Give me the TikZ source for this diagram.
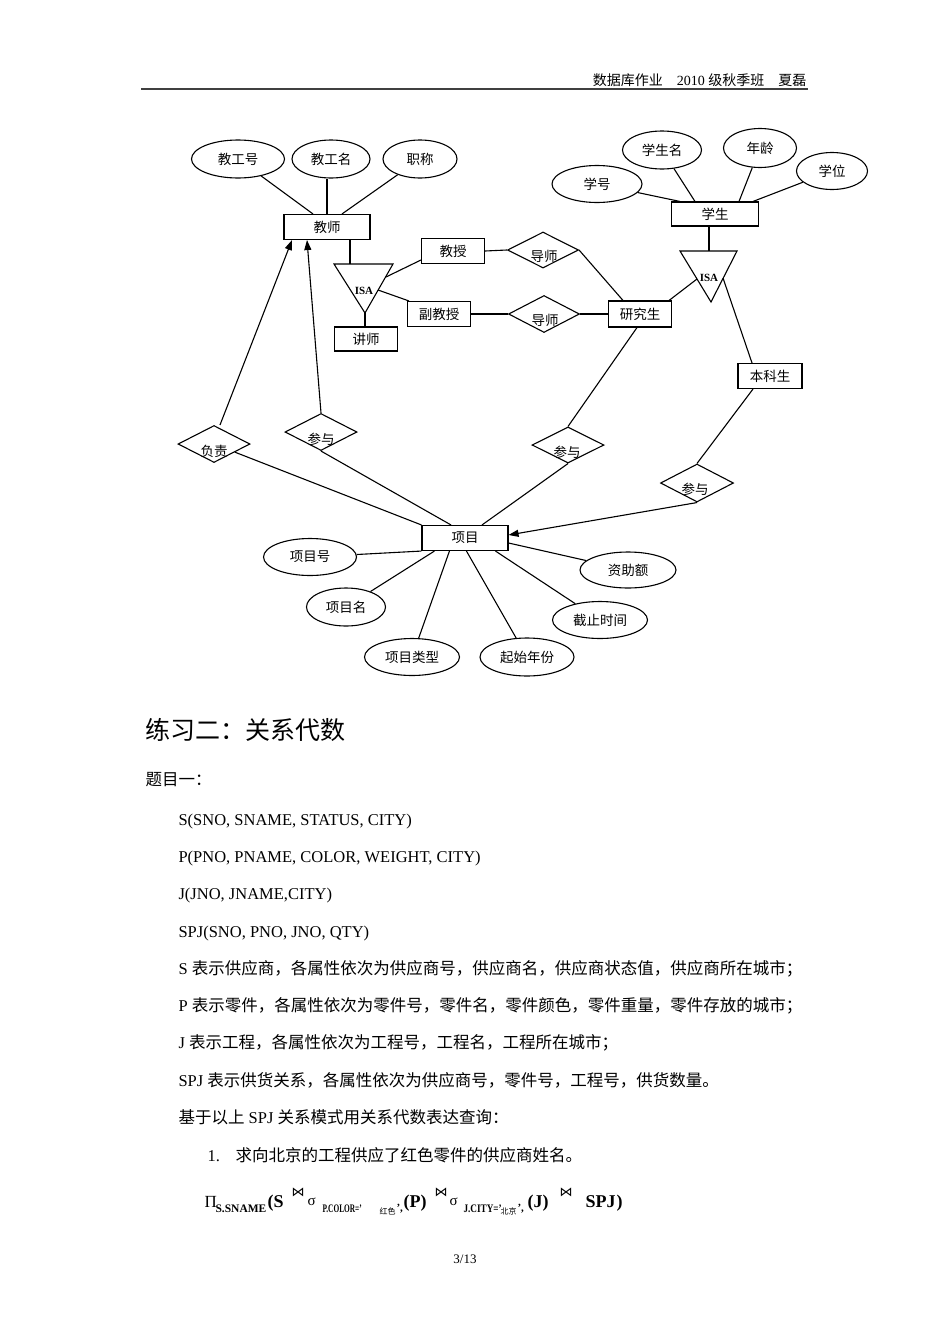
\documentclass[tikz,border=0pt]{standalone}
\usepackage{fontspec}
\setmainfont{Liberation Serif}
\newfontfamily\cjk{Noto Sans CJK SC}
\newfontfamily\dejavu{DejaVu Sans}
\usetikzlibrary{shapes.geometric,arrows.meta,calc}
\begin{document}
\begin{tikzpicture}[x=1pt,y=-1pt,line width=1.1pt,
  erfont/.style={font=\cjk\fontsize{13.5}{15}\selectfont},
  attr/.style={ellipse,draw,inner sep=0pt,erfont},
  ent/.style={rectangle,draw,inner sep=0pt,erfont},
  rel/.style={diamond,draw,inner sep=0pt},
  rlbl/.style={inner sep=0pt,erfont},
  isa/.style={inner sep=0pt,font=\bfseries\fontsize{11}{12}\selectfont},
  txt/.style={anchor=base west,inner sep=0pt,font=\fontsize{16.5}{18}\selectfont},
  fml/.style={anchor=base west,inner sep=0pt},
  arr/.style={-{Triangle[length=10pt,width=7pt]}}]
\useasboundingbox (0,0) rectangle (950,1344);
\fill[white] (0,0) rectangle (950,1344);

% header
\node[anchor=base east,inner sep=0pt,font=\fontsize{14}{16}\selectfont] (hdr) at (807,85)
  {{\cjk 数据库作业}\hspace{14pt}2010 {\cjk 级秋季班}\hspace{14pt}{\cjk 夏磊}};
\coordinate (hl1) at (141,89);
\coordinate (hl2) at (808,89);
\draw[line width=1.6pt,black!75] (hl1) -- (hl2);

% ---------- teacher side ----------
\node[attr,minimum width=93pt,minimum height=38pt] (a1) at (238,159) {教工号};
\node[attr,minimum width=78pt,minimum height=38pt] (a2) at (331,159) {教工名};
\node[attr,minimum width=74pt,minimum height=38pt] (a3) at (420,159) {职称};
\node[ent,minimum width=86pt,minimum height=25pt] (T) at (327,227) {教师};

\draw (a1) -- ([xshift=-14pt]T.north);
\draw (T.north) -- (T.north |- a2.south);
\draw (a3) -- ([xshift=15pt]T.north);

\coordinate (t1a) at (334,264);
\coordinate (t1b) at (393,264);
\coordinate (t1c) at (365,313);
\draw (t1a) -- (t1b) -- (t1c) -- cycle;
\node[isa] (isa1) at (364,291) {ISA};
\coordinate (t1top) at (350,264);
\coordinate (t1r1) at (386,277);
\coordinate (t1r2) at (378,290);
\draw ([xshift=23pt]T.south) -- (t1top);

\node[ent,minimum width=63pt,minimum height=24pt] (L) at (366,339) {讲师};
\node[ent,minimum width=63pt,minimum height=25pt] (Pr) at (453,251) {教授};
\node[ent,minimum width=63pt,minimum height=25pt] (AP) at (439,314) {副教授};
\draw (t1c) -- (t1c |- L.north);
\draw (t1r1) -- ([yshift=-9pt]Pr.west);
\draw (t1r2) -- ([xshift=2pt]AP.north west);

\node[rel,minimum width=71pt,minimum height=36pt] (D1) at (543,250) {};
\node[rlbl] (D1t) at (544,256) {导师};
\node[rel,minimum width=71pt,minimum height=37pt] (D2) at (544,314) {};
\node[rlbl] (D2t) at (545,320) {导师};

\node[ent,minimum width=63pt,minimum height=26pt] (G) at (640,314) {研究生};
\draw (Pr.east) -- (D1.west);
\draw (D1.east) -- ([xshift=-17pt]G.north);
\draw (AP.east) -- (D2.west);
\draw (D2.east) -- (G.west);

% ---------- student side ----------
\node[attr,minimum width=90pt,minimum height=37pt] (b1) at (597,184) {学号};
\node[attr,minimum width=79pt,minimum height=38pt] (b2) at (662,150) {学生名};
\node[attr,minimum width=73pt,minimum height=39pt] (b3) at (760,148) {年龄};
\node[attr,minimum width=71pt,minimum height=37pt] (b4) at (832,171) {学位};
\node[ent,minimum width=87pt,minimum height=24pt] (S) at (715,214) {学生};
\draw (b1) -- ([xshift=-35pt]S.north);
\draw (b2) -- ([xshift=-20pt]S.north);
\draw (b3) -- ([xshift=24pt]S.north);
\draw (b4) -- ([xshift=38pt]S.north);

\coordinate (t2a) at (680,251);
\coordinate (t2b) at (737,251);
\coordinate (t2c) at (711,302);
\draw (t2a) -- (t2b) -- (t2c) -- cycle;
\node[isa] (isa2) at (709,278) {ISA};
\coordinate (t2top) at (709,251);
\coordinate (t2l) at (697,279);
\coordinate (t2r) at (723,278);
\draw ([xshift=-6pt]S.south) -- (t2top);

\node[ent,minimum width=64pt,minimum height=25pt] (U) at (770,376) {本科生};
\draw (t2l) -- ([xshift=-3pt]G.north east);
\draw (t2r) -- ([xshift=-18pt]U.north);

% ---------- relationships to project ----------
\node[rel,minimum width=72pt,minimum height=37pt] (R1) at (214,444) {};
\node[rlbl] (R1t) at (214,451) {负责};
\node[rel,minimum width=72pt,minimum height=37pt] (R2) at (321,432) {};
\node[rlbl] (R2t) at (321,439) {参与};
\node[rel,minimum width=72pt,minimum height=36pt] (R3) at (568,445) {};
\node[rlbl] (R3t) at (567,452) {参与};
\node[rel,minimum width=73pt,minimum height=38pt] (R4) at (697,483) {};
\node[rlbl] (R4t) at (695,489) {参与};

\node[ent,minimum width=86pt,minimum height=25pt] (P) at (465,538) {项目};

\draw[arr] ([xshift=6pt]R1.north) -- ([xshift=-35pt]T.south);
\draw[arr] (R2.north) -- ([xshift=-20pt]T.south);
\draw (R1) -- (P.north west);
\draw (R2.south) -- ([xshift=-14pt]P.north);
\draw (R3.south) -- ([xshift=17pt]P.north);
\draw ([xshift=-3pt]G.south) -- (R3.north);
\draw ([xshift=-17pt]U.south) -- (R4.north);
\draw[arr] (R4.south) -- ([yshift=3pt]P.east);

% ---------- project attributes ----------
\node[attr,minimum width=93pt,minimum height=37pt] (c1) at (310,557) {项目号};
\node[attr,minimum width=79pt,minimum height=38pt] (c2) at (346,607) {项目名};
\node[attr,minimum width=95pt,minimum height=37pt] (c3) at (412,657) {项目类型};
\node[attr,minimum width=94pt,minimum height=38pt] (c4) at (527,657) {起始年份};
\node[attr,minimum width=95pt,minimum height=37pt] (c5) at (600,620) {截止时间};
\node[attr,minimum width=96pt,minimum height=36pt] (c6) at (628,570) {资助额};
\draw (P.south west) -- (c1);
\draw ([xshift=13pt]P.south west) -- (c2);
\draw ([xshift=28pt]P.south west) -- (c3);
\draw ([xshift=45pt]P.south west) -- (c4);
\draw ([xshift=74pt]P.south west) -- (c5);
\draw ([yshift=-5pt]P.east) -- (c6);

% ---------- text section ----------
\node[anchor=base west,inner sep=0pt,font=\cjk\fontsize{25}{28}\selectfont] (h2) at (145,739.5) {练习二：关系代数};
\node[anchor=base west,inner sep=0pt,font=\cjk\fontsize{16.5}{18}\selectfont] (q1) at (145,785) {题目一：};

\node[txt] (l1) at (178,825) {S(SNO, SNAME, STATUS, CITY)};
\node[txt] (l2) at (178,862) {P(PNO, PNAME, COLOR, WEIGHT, CITY)};
\node[txt] (l3) at (178,899) {J(JNO, JNAME,CITY)};
\node[txt] (l4) at (178,937) {SPJ(SNO, PNO, JNO, QTY)};
\node[txt] (l5) at (178,974) {S {\cjk 表示供应商，各属性依次为供应商号，供应商名，供应商状态值，供应商所在城市；}};
\node[txt] (l6) at (178,1011) {P {\cjk 表示零件，各属性依次为零件号，零件名，零件颜色，零件重量，零件存放的城市；}};
\node[txt] (l7) at (178,1048) {J {\cjk 表示工程，各属性依次为工程号，工程名，工程所在城市；}};
\node[txt] (l8) at (178,1086) {SPJ {\cjk 表示供货关系，各属性依次为供应商号，零件号，工程号，供货数量。}};
\node[txt] (l9) at (178,1123) {{\cjk 基于以上} SPJ {\cjk 关系模式用关系代数表达查询：}};
\node[txt] (n1) at (207,1161) {1.};
\node[txt] (l10) at (235,1161) {\cjk 求向北京的工程供应了红色零件的供应商姓名。};

% ---------- formula ----------
\node[fml] (f1) at (204,1207) {\fontsize{17}{18}\selectfont Π};
\node[fml] (f2) at (215,1212) {\bfseries\fontsize{11.5}{12}\selectfont S.SNAME};
\node[fml] (f3) at (267,1207) {\bfseries\fontsize{18}{20}\selectfont (S};
\node[fml] (f4) at (291,1196) {\dejavu\fontsize{13}{14}\selectfont ⋈};
\node[fml] (f5) at (307,1205) {\fontsize{15}{16}\selectfont σ};
\node[fml] (f6) at (322,1212) {\scalebox{0.64}[1]{\bfseries\fontsize{11.5}{12}\selectfont P.COLOR='}};
\node[fml] (f7) at (379,1214) {\cjk\fontsize{8}{9}\selectfont 红色};
\node[fml] (f8) at (396,1211) {\bfseries\fontsize{11}{12}\selectfont ’,};
\node[fml] (f9) at (403,1207) {\bfseries\fontsize{18}{20}\selectfont (P)};
\node[fml] (f10) at (434,1196) {\dejavu\fontsize{13}{14}\selectfont ⋈};
\node[fml] (f11) at (449,1205) {\fontsize{15}{16}\selectfont σ};
\node[fml] (f12) at (463,1212) {\scalebox{0.8}[1]{\bfseries\fontsize{11.5}{12}\selectfont J.CITY='}};
\node[fml] (f13) at (500,1214) {\cjk\fontsize{8}{9}\selectfont 北京};
\node[fml] (f14) at (517,1211) {\bfseries\fontsize{11}{12}\selectfont ’,};
\node[fml] (f15) at (527,1207) {\bfseries\fontsize{18}{20}\selectfont (J)};
\node[fml] (f16) at (559,1196) {\dejavu\fontsize{13}{14}\selectfont ⋈};
\node[fml] (f17) at (585,1207) {\bfseries\fontsize{18}{20}\selectfont SPJ};
\node[fml] (f18) at (616,1207) {\bfseries\fontsize{18}{20}\selectfont )};

% footer
\node[anchor=base,inner sep=0pt,font=\fontsize{13}{14}\selectfont] (pg) at (465,1263) {3/13};
\end{tikzpicture}
\end{document}
